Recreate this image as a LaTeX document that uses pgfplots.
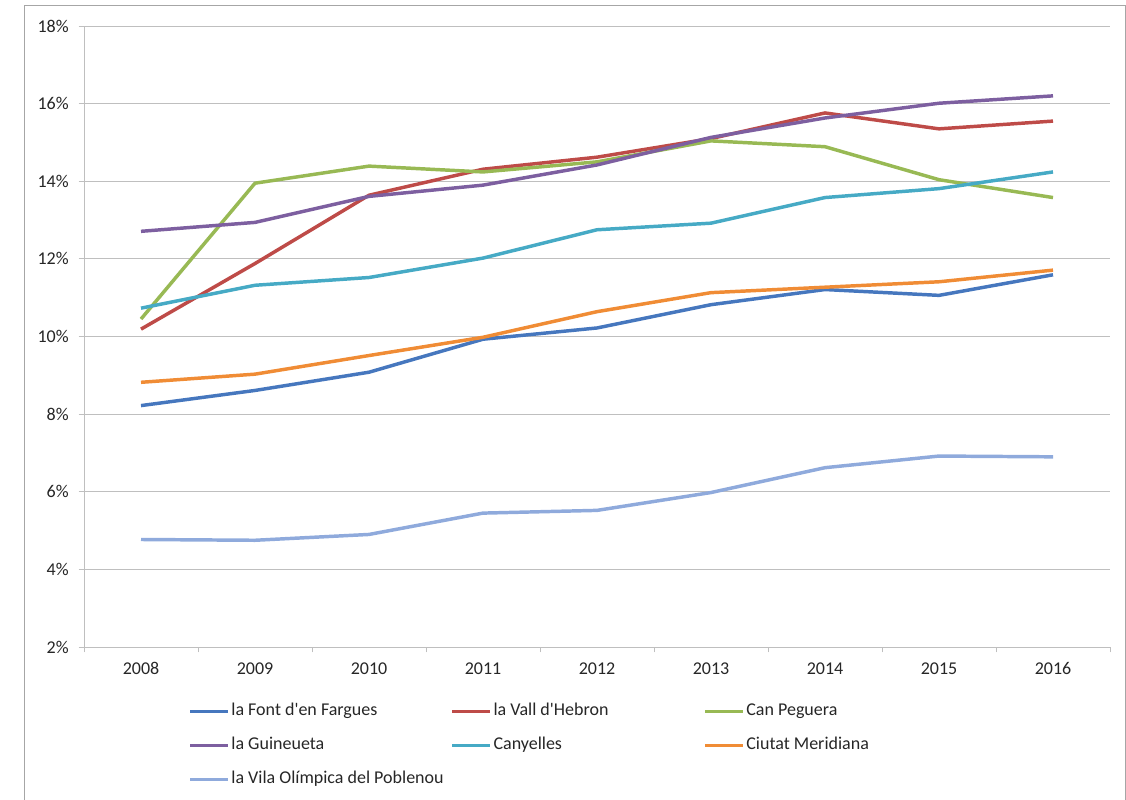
\documentclass[border=0pt]{standalone}
\usepackage{fontspec}
\setmainfont{Carlito}
\usepackage{pgfplots}
\pgfplotsset{compat=1.18}
\definecolor{cFont}{HTML}{4677BE}
\definecolor{cVall}{HTML}{BE4B48}
\definecolor{cPeg}{HTML}{98B954}
\definecolor{cGui}{HTML}{7D5FA0}
\definecolor{cCany}{HTML}{46AAC5}
\definecolor{cCiu}{HTML}{F08C35}
\definecolor{cVila}{HTML}{8FAADC}
\definecolor{gridc}{HTML}{BFBFBF}
\definecolor{framec}{HTML}{A6A6A6}
\begin{document}
\begin{tikzpicture}
\useasboundingbox (0,0) rectangle (844.5pt,-599.25pt);
\draw[framec, line width=0.75pt] (18pt,-610pt) -- (18pt,-4.5pt) -- (843.75pt,-4.5pt) -- (843.75pt,-610pt);
\begin{axis}[
  at={(63pt,-19.5pt)}, anchor=north west,
  scale only axis, width=769.5pt, height=465.75pt,
  xmin=-0.5, xmax=8.5, ymin=2, ymax=18,
  xtick={0,...,8},
  xticklabels={2008,2009,2010,2011,2012,2013,2014,2015,2016},
  minor xtick={-0.5,0.5,...,8.5},
  ytick={2,4,...,18},
  yticklabels={2\%,4\%,6\%,8\%,10\%,12\%,14\%,16\%,18\%},
  axis x line*=bottom, axis y line*=left,
  axis line style={-, draw=gridc, line width=0.75pt},
  tick align=outside,
  x tick style={draw=none},
  minor x tick style={draw=gridc, line width=0.75pt},
  minor tick length=4pt,
  y tick style={draw=gridc, line width=0.75pt},
  major tick length=4pt,
  ymajorgrids, major grid style={draw=gridc, line width=0.75pt},
  tick label style={font=\fontsize{13.5pt}{16pt}\selectfont, text=black!85},
  yticklabel style={xshift=-4pt},
  xticklabel style={yshift=-4pt},
  every axis plot/.append style={line width=2.6pt, line join=round, mark=none},
  legend columns=3,
  legend cell align=left,
  legend style={at={(0.0978,-0.081)}, anchor=north west, draw=none, fill=none,
    font=\fontsize{13.5pt}{16pt}\selectfont, text=black!85,
    column sep=0pt, row sep=9pt,
    nodes={inner sep=1.5pt, text height=10pt, text depth=3.5pt}},
  legend image code/.code={\draw[#1] (0pt,0pt) -- (28pt,0pt);},
]
\addplot[cFont] coordinates {(0,8.22) (1,8.61) (2,9.08) (3,9.93) (4,10.22) (5,10.82) (6,11.21) (7,11.06) (8,11.59)};
\addlegendentry{\makebox[163pt][l]{la Font d\textquotesingle en Fargues}}
\addplot[cVall] coordinates {(0,10.19) (1,11.88) (2,13.64) (3,14.31) (4,14.62) (5,15.10) (6,15.76) (7,15.35) (8,15.55)};
\addlegendentry{\makebox[156pt][l]{la Vall d\textquotesingle Hebron}}
\addplot[cPeg] coordinates {(0,10.45) (1,13.95) (2,14.39) (3,14.24) (4,14.50) (5,15.04) (6,14.89) (7,14.04) (8,13.58)};
\addlegendentry{Can Peguera}
\addplot[cGui] coordinates {(0,12.71) (1,12.94) (2,13.61) (3,13.90) (4,14.42) (5,15.13) (6,15.63) (7,16.01) (8,16.20)};
\addlegendentry{\makebox[163pt][l]{la Guineueta}}
\addplot[cCany] coordinates {(0,10.73) (1,11.32) (2,11.52) (3,12.02) (4,12.75) (5,12.92) (6,13.58) (7,13.81) (8,14.24)};
\addlegendentry{\makebox[156pt][l]{Canyelles}}
\addplot[cCiu] coordinates {(0,8.82) (1,9.03) (2,9.51) (3,9.98) (4,10.64) (5,11.13) (6,11.27) (7,11.41) (8,11.71)};
\addlegendentry{Ciutat Meridiana}
\addplot[cVila] coordinates {(0,4.77) (1,4.75) (2,4.90) (3,5.45) (4,5.52) (5,5.98) (6,6.62) (7,6.92) (8,6.90)};
\addlegendentry{\makebox[163pt][l]{la Vila Olímpica del Poblenou}}
\end{axis}
\end{tikzpicture}
\end{document}
